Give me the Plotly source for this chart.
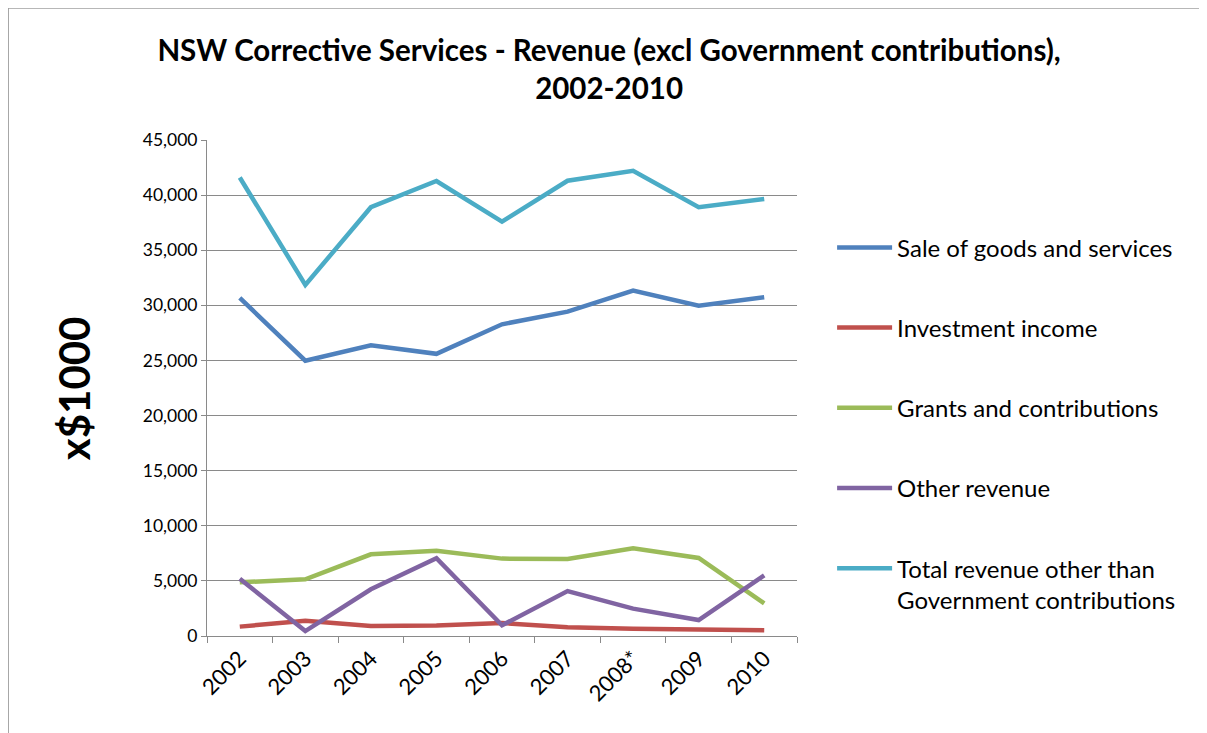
import plotly.graph_objects as go

years = ["2002", "2003", "2004", "2005", "2006", "2007", "2008*", "2009", "2010"]
sale_goods = [30670, 24980, 26370, 25600, 28280, 29430, 31330, 29970, 30730]
investment = [850, 1390, 910, 950, 1180, 790, 660, 540, 520]
grants = [4870, 5140, 7410, 7740, 7020, 6990, 7950, 7080, 2960]
other = [5200, 450, 4240, 7050, 970, 4080, 2480, 1450, 5500]
total = [41600, 31850, 38900, 41280, 37600, 41300, 42200, 38900, 39650]

series_names = ["Sale of goods and services", "Investment income", "Grants and contributions",
                "Other revenue", "Total revenue other than<br>Government contributions"]
series_values = [sale_goods, investment, grants, other, total]
colors = ["#4F81BD", "#C0504D", "#9BBB59", "#8064A2", "#4BACC6"]

FONT = "Lato"
fig = go.Figure()
for i, (name, vals, col) in enumerate(zip(series_names, series_values, colors)):
    fig.add_trace(go.Scatter(x=years, y=vals, name=name, mode="lines",
                             line=dict(color=col, width=4.5), legendgroup=f"g{i}"))

grid = "#8A8A8A"
fig.update_layout(
    template="none",
    width=1207, height=733,
    margin=dict(l=199, r=418, t=132, b=105),
    paper_bgcolor="white", plot_bgcolor="white",
    font=dict(family=FONT, color="black"),
    title=dict(text="<b>NSW Corrective Services - Revenue (excl Government contributions),<br>2002-2010</b>",
               x=0.498, xanchor="center", y=0.928, yanchor="top",
               font=dict(family=FONT, size=29.5, color="black")),
    showlegend=True,
    legend=dict(x=1.0595, xanchor="left", y=0.828, yanchor="top", traceorder="grouped",
                tracegroupgap=46, font=dict(family=FONT, size=24, color="black"),
                itemwidth=55, valign="top", bgcolor="rgba(0,0,0,0)"),
    xaxis=dict(type="category", range=[-0.5, 8.5], showline=True, linecolor=grid, linewidth=1,
               ticks="outside", tickson="boundaries", ticklen=6, tickcolor=grid,
               tickangle=-45, tickfont=dict(family=FONT, size=22), showgrid=False,
               automargin=False),
    yaxis=dict(range=[0, 45000], dtick=5000, tickformat=",", showline=True, linecolor=grid,
               linewidth=1, ticks="outside", ticklen=5, tickcolor=grid, showgrid=True,
               gridcolor=grid, gridwidth=1, tickfont=dict(family=FONT, size=17.5), zeroline=False,
               automargin=False),
    annotations=[dict(text="<b>x$1000</b>", xref="paper", yref="paper", x=-0.225, y=0.5,
                      xanchor="center", yanchor="middle", textangle=-90, showarrow=False,
                      font=dict(family=FONT, size=42, color="black"))],
    shapes=[dict(type="rect", xref="paper", yref="paper", x0=-0.337, x1=1.690, y0=-0.25, y1=1.266,
                 line=dict(color="#A0A0A0", width=1.5), fillcolor="rgba(0,0,0,0)", layer="below")],
)
fig.write_html("out.html")
